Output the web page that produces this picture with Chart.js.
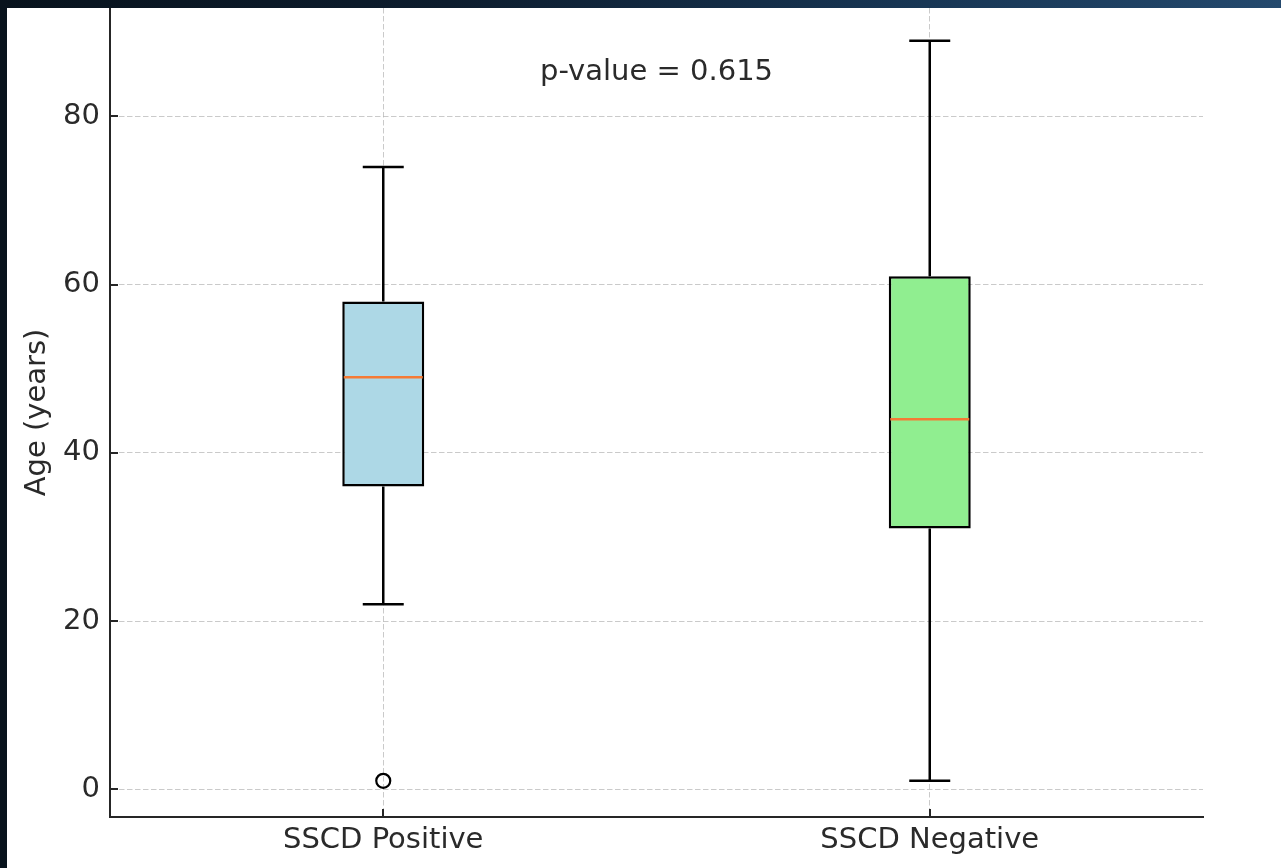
<!DOCTYPE html>
<html>
<head>
<meta charset="utf-8">
<title>Age by SSCD status</title>
<script src="https://cdn.jsdelivr.net/npm/chart.js@4"></script>
<style>
  html, body { margin: 0; padding: 0; }
  body {
    width: 1281px; height: 868px; overflow: hidden;
    background: linear-gradient(90deg, #08131d 0%, #0d1d2e 35%, #173553 70%, #24496d 100%);
    position: relative;
  }
  #wrap {
    position: absolute; left: 7px; top: 8px;
    width: 1274px; height: 860px; background: #ffffff;
  }
</style>
</head>
<body>
<div id="wrap"><canvas id="chart"></canvas></div>
<script>
// Five-number summaries per group (ages in years)
const categories  = ['SSCD Positive', 'SSCD Negative'];
const whiskerLow  = [22, 1];
const q1          = [36, 31];
const median      = [49, 44];
const q3          = [58, 61];
const whiskerHigh = [74, 89];
const outliers    = [[1], []];
const yTicks      = [0, 20, 40, 60, 80];
const boxColors   = ['#add8e6', '#90ee90'];
const pValueText  = 'p-value = 0.615';

const FONT = { family: "'DejaVu Sans', sans-serif", size: 29 };
const TEXT = '#2a2a2a';
const INK  = '#000000';
const SPINE = '#262626';
const LW = 2.5;

const outlierPoints = outliers.flatMap((vals, i) => vals.map(v => ({ x: categories[i], y: v })));

// Whiskers, caps, medians, inward tick marks and the test annotation
const boxExtras = {
  id: 'boxExtras',
  afterDatasetsDraw(chart) {
    const { ctx, scales: { x, y } } = chart;
    const bars = chart.getDatasetMeta(0).data;
    ctx.save();
    ctx.lineCap = 'butt';
    categories.forEach((c, i) => {
      const cx = x.getPixelForValue(i);
      const half = bars[i].width / 2;
      const capHalf = half / 2;
      ctx.strokeStyle = INK;
      ctx.lineWidth = LW;
      ctx.beginPath();
      ctx.moveTo(cx, y.getPixelForValue(q3[i]));
      ctx.lineTo(cx, y.getPixelForValue(whiskerHigh[i]));
      ctx.moveTo(cx, y.getPixelForValue(q1[i]));
      ctx.lineTo(cx, y.getPixelForValue(whiskerLow[i]));
      ctx.moveTo(cx - capHalf, y.getPixelForValue(whiskerHigh[i]));
      ctx.lineTo(cx + capHalf, y.getPixelForValue(whiskerHigh[i]));
      ctx.moveTo(cx - capHalf, y.getPixelForValue(whiskerLow[i]));
      ctx.lineTo(cx + capHalf, y.getPixelForValue(whiskerLow[i]));
      ctx.stroke();
      ctx.strokeStyle = '#f57a35';
      ctx.lineWidth = LW;
      ctx.beginPath();
      ctx.moveTo(cx - half + 1.5, y.getPixelForValue(median[i]));
      ctx.lineTo(cx + half - 1.5, y.getPixelForValue(median[i]));
      ctx.stroke();
    });
    ctx.restore();
  },
  afterDraw(chart) {
    const { ctx, chartArea, scales: { x, y } } = chart;
    ctx.save();
    ctx.strokeStyle = SPINE;
    ctx.lineWidth = 2;
    ctx.beginPath();
    y.ticks.forEach((t, i) => {
      const py = Math.round(y.getPixelForTick(i));
      ctx.moveTo(chartArea.left, py);
      ctx.lineTo(chartArea.left + 8, py);
    });
    x.ticks.forEach((t, i) => {
      const px = Math.round(x.getPixelForTick(i));
      ctx.moveTo(px, chartArea.bottom);
      ctx.lineTo(px, chartArea.bottom - 8);
    });
    ctx.stroke();
    ctx.fillStyle = TEXT;
    ctx.font = `${FONT.size}px ${FONT.family}`;
    ctx.textAlign = 'center';
    ctx.textBaseline = 'alphabetic';
    const midX = (x.getPixelForValue(0) + x.getPixelForValue(1)) / 2;
    ctx.fillText(pValueText, midX, y.getPixelForValue(84.3));
    ctx.restore();
  }
};

new Chart(document.getElementById('chart'), {
  type: 'bar',
  data: {
    labels: categories,
    datasets: [
      {
        type: 'bar',
        data: q1.map((v, i) => [v, q3[i]]),
        backgroundColor: boxColors,
        borderColor: INK,
        borderWidth: LW,
        borderSkipped: false,
        barPercentage: 0.15,
        categoryPercentage: 1.0
      },
      {
        type: 'line',
        data: outlierPoints,
        showLine: false,
        pointStyle: 'circle',
        pointRadius: 7,
        pointHoverRadius: 7,
        pointBorderWidth: 2.2,
        pointBorderColor: INK,
        pointBackgroundColor: 'rgba(0,0,0,0)'
      }
    ]
  },
  options: {
    responsive: true,
    maintainAspectRatio: false,
    animation: false,
    layout: { autoPadding: false, padding: { top: 0, right: 78, bottom: 0, left: 0 } },
    plugins: { legend: { display: false }, tooltip: { enabled: false } },
    scales: {
      x: {
        type: 'category',
        offset: true,
        grid: { display: true, offset: false, color: 'rgba(180,180,180,0.7)', lineWidth: 1, drawTicks: false },
        border: { display: true, color: SPINE, width: 2, dash: [5.5, 2.5] },
        ticks: { font: FONT, color: TEXT, padding: 6, maxRotation: 0 },
        afterFit(s) { s.height = 51; s.paddingLeft = 0; s.paddingRight = 0; }
      },
      y: {
        min: -3.3,
        max: 92.9,
        afterBuildTicks(s) { s.ticks = yTicks.map(v => ({ value: v })); },
        grid: { display: true, color: 'rgba(180,180,180,0.7)', lineWidth: 1, drawTicks: false },
        border: { display: true, color: SPINE, width: 2, dash: [5.5, 2.5] },
        ticks: { font: FONT, color: TEXT, padding: 10 },
        title: { display: true, text: 'Age (years)', font: FONT, color: TEXT, padding: { top: 13, bottom: 0 } },
        afterFit(s) { s.width = 103; s.paddingTop = 0; s.paddingBottom = 0; }
      }
    }
  },
  plugins: [boxExtras]
});
</script>
</body>
</html>
